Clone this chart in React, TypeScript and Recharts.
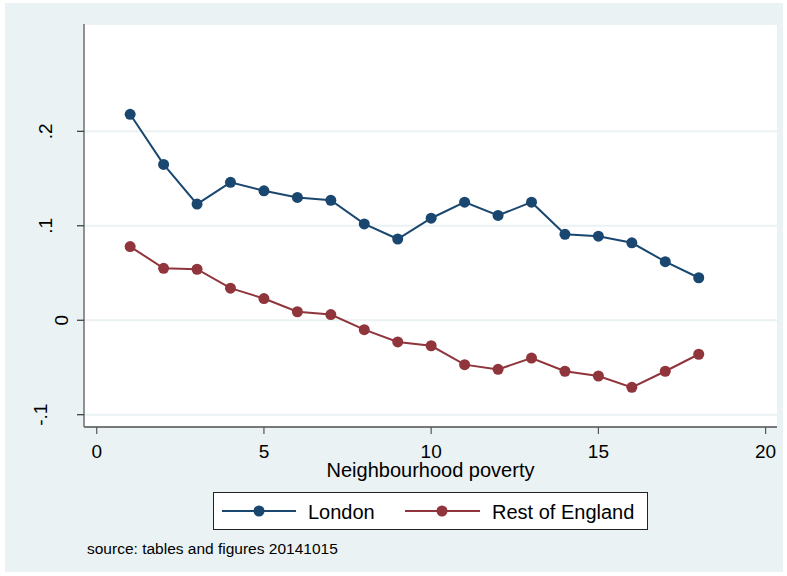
import { LineChart, Line, XAxis, YAxis, CartesianGrid } from "recharts";

const poverty = [1, 2, 3, 4, 5, 6, 7, 8, 9, 10, 11, 12, 13, 14, 15, 16, 17, 18];
const london = [0.218, 0.165, 0.123, 0.146, 0.137, 0.13, 0.127, 0.102, 0.086, 0.108, 0.125, 0.111, 0.125, 0.091, 0.089, 0.082, 0.062, 0.045];
const restOfEngland = [0.078, 0.055, 0.054, 0.034, 0.023, 0.009, 0.006, -0.01, -0.023, -0.027, -0.047, -0.052, -0.04, -0.054, -0.059, -0.071, -0.054, -0.036];
const xTicks = [0, 5, 10, 15, 20];
const yTicks = [-0.1, 0, 0.1, 0.2];
const yTickLabels = ["-.1", "0", ".1", ".2"];

const series = [
  { key: "london", name: "London", color: "#1A476F" },
  { key: "rest", name: "Rest of England", color: "#90353B" },
];

const data = poverty.map((x, i) => ({ x, london: london[i], rest: restOfEngland[i] }));

const FONT = "'Liberation Sans', Arial, Helvetica, sans-serif";
const BG = "#EAF2F3";

// Stata pushes the rotated labels around by their width
const yLabelX: Record<string, number> = { "-.1": 47, "0": 68, ".1": 52, ".2": 52 };

function YTick(props: any) {
  const { y, payload } = props;
  const label = yTickLabels[yTicks.indexOf(payload.value)] ?? String(payload.value);
  const x = yLabelX[label] ?? 52;
  return (
    <text x={x} y={y} transform={`rotate(-90, ${x}, ${y})`} textAnchor="middle" fontSize={19} fontFamily={FONT} fill="#000">
      {label}
    </text>
  );
}

function XTick(props: any) {
  const { x, payload } = props;
  return (
    <text x={x} y={458} textAnchor="middle" fontSize={19} fontFamily={FONT} fill="#000">
      {payload.value}
    </text>
  );
}

function XTitle(props: any) {
  const vb = props.viewBox || { x: 84, width: 693, y: 427 };
  return (
    <text x={vb.x + vb.width / 2} y={477} textAnchor="middle" fontSize={20} fontFamily={FONT} fill="#000">
      Neighbourhood poverty
    </text>
  );
}

export default function App() {
  return (
    <div style={{ position: "absolute", left: 0, top: 0, width: 787, height: 576, background: "#fff" }}>
      <div style={{ position: "absolute", left: 5, top: 3, width: 778, height: 569, background: BG }} />
      <div style={{ position: "absolute", left: 0, top: 0 }}>
        <LineChart width={787} height={576} data={data} margin={{ top: 24, right: 10, bottom: 0, left: 5 }}>
          <CartesianGrid vertical={false} fill="#fff" stroke={BG} strokeWidth={2} />
          <XAxis
            type="number"
            dataKey="x"
            domain={[-0.38, 20.34]}
            ticks={xTicks}
            allowDataOverflow
            height={149}
            tickSize={7}
            axisLine={{ stroke: "#000", strokeWidth: 1.2 }}
            tickLine={{ stroke: "#555", strokeWidth: 1.2 }}
            tick={<XTick />}
            label={<XTitle />}
          />
          <YAxis
            type="number"
            domain={[-0.113, 0.3136]}
            ticks={yTicks}
            allowDataOverflow
            width={79}
            tickSize={7}
            axisLine={{ stroke: "#777", strokeWidth: 1.6 }}
            tickLine={{ stroke: "#333", strokeWidth: 1.2 }}
            tick={<YTick />}
          />
          {series.map((s) => (
            <Line
              key={s.key}
              type="linear"
              dataKey={s.key}
              name={s.name}
              stroke={s.color}
              strokeWidth={2}
              dot={{ r: 5.5, fill: s.color, stroke: s.color, strokeWidth: 0 }}
              isAnimationActive={false}
            />
          ))}
        </LineChart>
      </div>
      <svg width={787} height={576} style={{ position: "absolute", left: 0, top: 0, pointerEvents: "none" }}>
        <rect x={213.5} y={492.5} width={434} height={37} fill="#fff" stroke="#222" strokeWidth={1} />
        <line x1={222} x2={296} y1={511} y2={511} stroke={series[0].color} strokeWidth={2} />
        <circle cx={259} cy={511} r={5.5} fill={series[0].color} />
        <text x={308} y={519} fontSize={20} fontFamily={FONT} fill="#000">{series[0].name}</text>
        <line x1={405} x2={480} y1={511} y2={511} stroke={series[1].color} strokeWidth={2} />
        <circle cx={442} cy={511} r={5.5} fill={series[1].color} />
        <text x={492} y={519} fontSize={20} fontFamily={FONT} fill="#000">{series[1].name}</text>
        <text x={87} y={554} fontSize={15.5} fontFamily={FONT} fill="#000">source: tables and figures 20141015</text>
      </svg>
    </div>
  );
}
